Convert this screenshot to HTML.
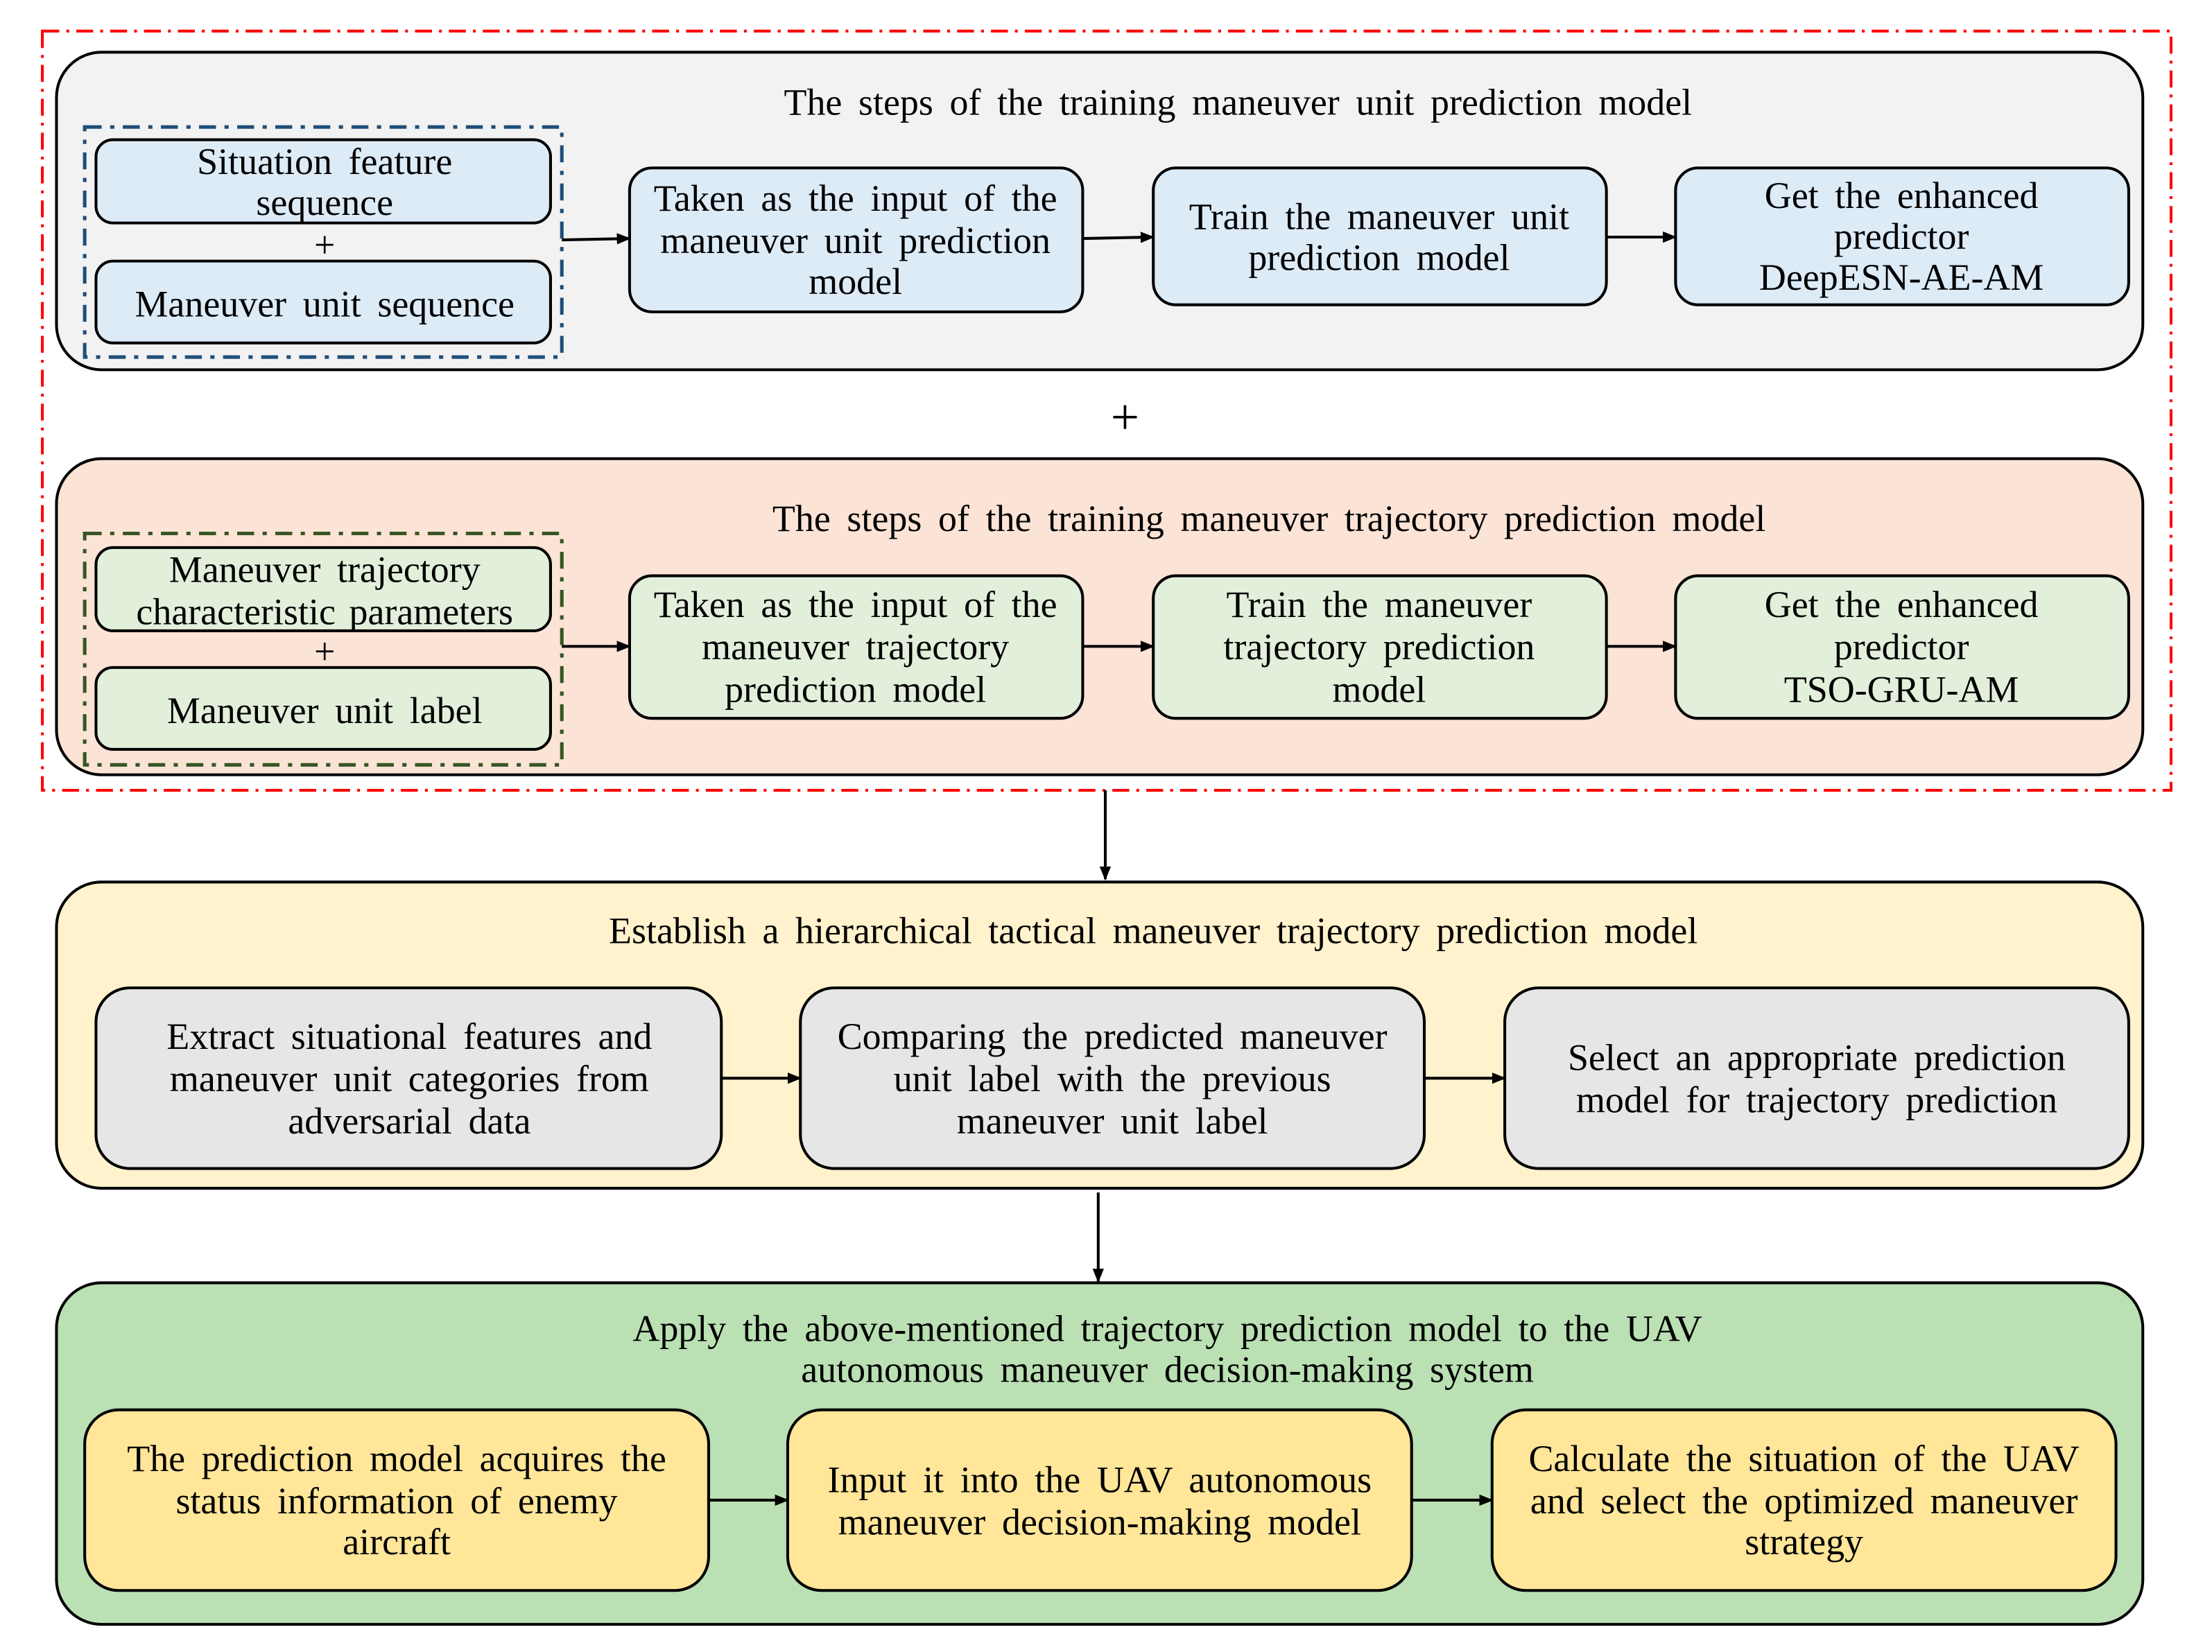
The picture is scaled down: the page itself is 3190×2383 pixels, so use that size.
<!DOCTYPE html>
<html><head><meta charset="utf-8"><style>html,body{margin:0;padding:0;background:#fff}svg{display:block}</style></head><body>
<svg width="3190" height="2383" viewBox="0 0 1567 1170.6" xmlns="http://www.w3.org/2000/svg" font-family="'Liberation Serif', serif" font-size="26.5" word-spacing="5" text-anchor="middle">
<defs><marker id="a" markerWidth="10" markerHeight="8" refX="9" refY="4" orient="auto" markerUnits="userSpaceOnUse"><path d="M0,0 L10,4 L0,8 z" fill="#000"/></marker></defs>
<rect x="30" y="22" width="1508" height="538" fill="none" stroke="#ff0000" stroke-width="2" stroke-dasharray="12,5,2,5"/>
<!-- panel 1 -->
<rect x="40" y="37" width="1478" height="225" rx="32" fill="#f2f2f2" stroke="#000" stroke-width="2"/>
<text x="877" y="72" dy=".35em">The steps of the training maneuver unit prediction model</text>
<rect x="60" y="90" width="338" height="163" fill="none" stroke="#1f4e79" stroke-width="2.5" stroke-dasharray="12,6,3,6"/>
<g fill="#ddebf7" stroke="#000" stroke-width="2">
<rect x="68" y="99" width="322" height="59" rx="12"/><rect x="68" y="185" width="322" height="58" rx="12"/>
<rect x="446" y="119" width="321" height="102" rx="16"/><rect x="817" y="119" width="321" height="97" rx="16"/><rect x="1187" y="119" width="321" height="97" rx="16"/></g>
<text x="230" y="114" dy=".35em">Situation feature</text><text x="230" y="143" dy=".35em">sequence</text>
<text x="230" y="173" dy=".35em">+</text>
<text x="230" y="215" dy=".35em">Maneuver unit sequence</text>
<text x="606" y="140" dy=".35em">Taken as the input of the</text><text x="606" y="170" dy=".35em">maneuver unit prediction</text><text x="606" y="199" dy=".35em">model</text>
<text x="977" y="153" dy=".35em">Train the maneuver unit</text><text x="977" y="182" dy=".35em">prediction model</text>
<text x="1347" y="138" dy=".35em">Get the enhanced</text><text x="1347" y="167" dy=".35em">predictor</text><text x="1347" y="196" dy=".35em">DeepESN-AE-AM</text>
<g stroke="#000" stroke-width="2" marker-end="url(#a)">
<line x1="398" y1="170" x2="446" y2="169"/><line x1="767" y1="169" x2="817" y2="168"/><line x1="1138" y1="168" x2="1187" y2="168"/></g>
<text x="797" y="295" dy=".35em" font-size="36">+</text>
<!-- panel 2 -->
<rect x="40" y="325" width="1478" height="224" rx="32" fill="#fbe3d6" stroke="#000" stroke-width="2"/>
<text x="899" y="367" dy=".35em">The steps of the training maneuver trajectory prediction model</text>
<rect x="60" y="378" width="338" height="164" fill="none" stroke="#375623" stroke-width="2.5" stroke-dasharray="12,6,3,6"/>
<g fill="#e2efda" stroke="#000" stroke-width="2">
<rect x="68" y="388" width="322" height="59" rx="12"/><rect x="68" y="473" width="322" height="58" rx="12"/>
<rect x="446" y="408" width="321" height="101" rx="16"/><rect x="817" y="408" width="321" height="101" rx="16"/><rect x="1187" y="408" width="321" height="101" rx="16"/></g>
<text x="230" y="403" dy=".35em">Maneuver trajectory</text><text x="230" y="433" dy=".35em" word-spacing="3">characteristic parameters</text>
<text x="230" y="461" dy=".35em">+</text>
<text x="230" y="503" dy=".35em">Maneuver unit label</text>
<text x="606" y="428" dy=".35em">Taken as the input of the</text><text x="606" y="458" dy=".35em">maneuver trajectory</text><text x="606" y="488" dy=".35em">prediction model</text>
<text x="977" y="428" dy=".35em">Train the maneuver</text><text x="977" y="458" dy=".35em">trajectory prediction</text><text x="977" y="488" dy=".35em">model</text>
<text x="1347" y="428" dy=".35em">Get the enhanced</text><text x="1347" y="458" dy=".35em">predictor</text><text x="1347" y="488" dy=".35em">TSO-GRU-AM</text>
<g stroke="#000" stroke-width="2" marker-end="url(#a)">
<line x1="398" y1="458" x2="446" y2="458"/><line x1="767" y1="458" x2="817" y2="458"/><line x1="1138" y1="458" x2="1187" y2="458"/>
<line x1="783" y1="560" x2="783" y2="623"/><line x1="778" y1="845" x2="778" y2="908"/></g>
<!-- panel 3 -->
<rect x="40" y="625" width="1478" height="217" rx="32" fill="#fff2cc" stroke="#000" stroke-width="2"/>
<text x="817" y="659" dy=".35em">Establish a hierarchical tactical maneuver trajectory prediction model</text>
<g fill="#e7e6e6" stroke="#000" stroke-width="2">
<rect x="68" y="700" width="443" height="128" rx="24"/><rect x="567" y="700" width="442" height="128" rx="24"/><rect x="1066" y="700" width="442" height="128" rx="24"/></g>
<text x="290" y="734" dy=".35em">Extract situational features and</text><text x="290" y="764" dy=".35em">maneuver unit categories from</text><text x="290" y="794" dy=".35em">adversarial data</text>
<text x="788" y="734" dy=".35em">Comparing the predicted maneuver</text><text x="788" y="764" dy=".35em">unit label with the previous</text><text x="788" y="794" dy=".35em">maneuver unit label</text>
<text x="1287" y="749" dy=".35em">Select an appropriate prediction</text><text x="1287" y="779" dy=".35em">model for trajectory prediction</text>
<g stroke="#000" stroke-width="2" marker-end="url(#a)">
<line x1="511" y1="764" x2="567" y2="764"/><line x1="1009" y1="764" x2="1066" y2="764"/></g>
<!-- panel 4 -->
<rect x="40" y="909" width="1478" height="242" rx="32" fill="#bae0b4" stroke="#000" stroke-width="2"/>
<text x="827" y="941" dy=".35em">Apply the above-mentioned trajectory prediction model to the UAV</text>
<text x="827" y="970" dy=".35em">autonomous maneuver decision-making system</text>
<g fill="#ffe699" stroke="#000" stroke-width="2">
<rect x="60" y="999" width="442" height="128" rx="24"/><rect x="558" y="999" width="442" height="128" rx="24"/><rect x="1057" y="999" width="442" height="128" rx="24"/></g>
<text x="281" y="1033" dy=".35em">The prediction model acquires the</text><text x="281" y="1063" dy=".35em">status information of enemy</text><text x="281" y="1092" dy=".35em">aircraft</text>
<text x="779" y="1048" dy=".35em">Input it into the UAV autonomous</text><text x="779" y="1078" dy=".35em">maneuver decision-making model</text>
<text x="1278" y="1033" dy=".35em">Calculate the situation of the UAV</text><text x="1278" y="1063" dy=".35em">and select the optimized maneuver</text><text x="1278" y="1092" dy=".35em">strategy</text>
<g stroke="#000" stroke-width="2" marker-end="url(#a)">
<line x1="502" y1="1063" x2="558" y2="1063"/><line x1="1000" y1="1063" x2="1057" y2="1063"/></g>
</svg>
</body></html>
